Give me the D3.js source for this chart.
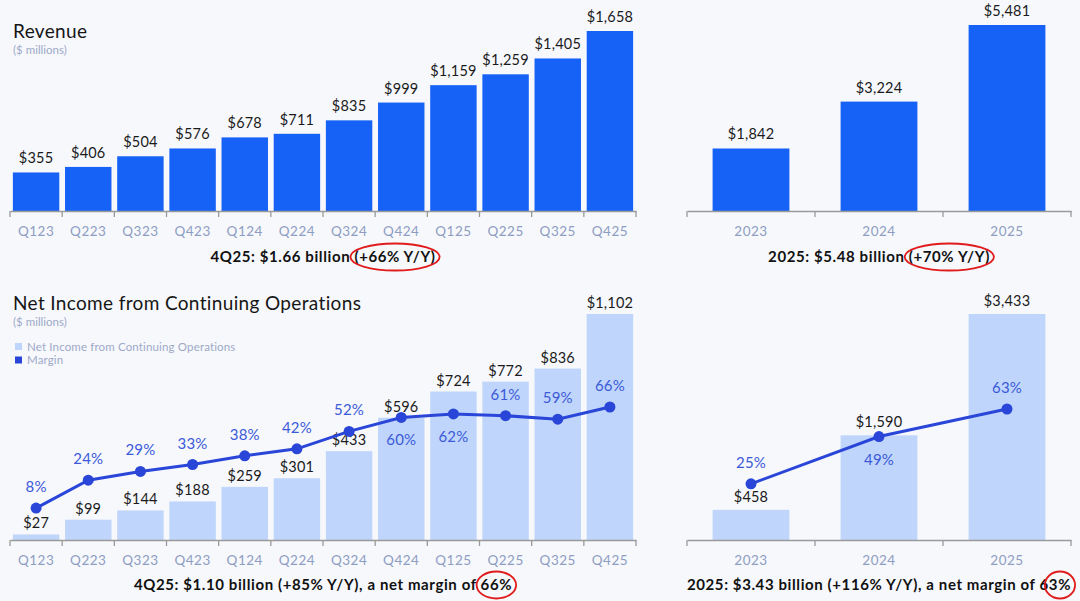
<!DOCTYPE html>
<html>
<head>
<meta charset="utf-8">
<script src="https://cdn.jsdelivr.net/npm/d3@7"></script>
<style>
  html, body { margin: 0; padding: 0; background: #f6f8fc; }
  svg { display: block; font-family: Lato, "Noto Sans", sans-serif; }
</style>
</head>
<body>
<svg id="chart" width="1080" height="601"></svg>
<script>
// data
var quarters = ["Q123", "Q223", "Q323", "Q423", "Q124", "Q224", "Q324", "Q424", "Q125", "Q225", "Q325", "Q425"];
var quarterlyRevenue = [355, 406, 504, 576, 678, 711, 835, 999, 1159, 1259, 1405, 1658];
var quarterlyNetIncome = [27, 99, 144, 188, 259, 301, 433, 596, 724, 772, 836, 1102];
var quarterlyMargin = [8, 24, 29, 33, 38, 42, 52, 60, 62, 61, 59, 66];

var years = ["2023", "2024", "2025"];
var annualRevenue = [1842, 3224, 5481];
var annualNetIncome = [458, 1590, 3433];
var annualMargin = [25, 49, 63];

// margin labels that sit under their point instead of above
var marginBelow = ["Q424", "Q125", "2024"];

var captions = {
  revQ: ["4Q25: $1.66 billion ", "(+66% Y/Y)", ""],
  revA: ["2025: $5.48 billion ", "(+70% Y/Y)", ""],
  niQ: ["4Q25: $1.10 billion (+85% Y/Y), a net margin of ", "66%", ""],
  niA: ["2025:  $3.43 billion (+116% Y/Y), a net margin of ", "63%", ""]
};

var svg = d3.select("#chart");
var money = d3.format(",");

var barBlue = "#1661f6";
var barLight = "#bfd5fb";
var lineBlue = "#2a46d8";
var pctBlue = "#3c5ad8";
var tickGrey = "#8e9dc2";

function bandScale(cats, r0, r1, p) {
  return d3.scaleBand().domain(cats).range([r0, r1])
    .paddingInner(p).paddingOuter(p / 2);
}

function drawAxis(x, yAxis) {
  var g = svg.append("g").attr("transform", "translate(0," + yAxis + ")");
  g.call(d3.axisBottom(x).tickSizeInner(0).tickSizeOuter(0).tickPadding(15));
  g.select(".domain").attr("stroke", "#9a9a9a").attr("stroke-width", 1.3);
  g.selectAll("text")
    .attr("fill", tickGrey)
    .attr("font-size", 13.5)
    .attr("letter-spacing", 0.5)
    .attr("font-family", "Lato, sans-serif");

  var r = x.range();
  var edges = d3.range(x.domain().length + 1).map(i => r[0] + i * x.step());
  g.selectAll("line.edge")
    .data(edges)
    .enter().append("line")
    .attr("class", "edge")
    .attr("x1", d => d).attr("x2", d => d)
    .attr("y1", 0).attr("y2", 6)
    .attr("stroke", "#9a9a9a")
    .attr("stroke-width", 1.3);
}

function drawBars(x, y, cats, values, colour, gap) {
  var data = cats.map((c, i) => ({c: c, v: values[i]}));
  var g = svg.append("g");
  g.selectAll("rect")
    .data(data)
    .enter().append("rect")
    .attr("x", d => x(d.c))
    .attr("width", x.bandwidth())
    .attr("y", d => y(d.v))
    .attr("height", d => y(0) - y(d.v))
    .attr("fill", colour);

  g.selectAll("text")
    .data(data)
    .enter().append("text")
    .attr("x", d => x(d.c) + x.bandwidth() / 2)
    .attr("y", d => y(d.v) - gap)
    .attr("text-anchor", "middle")
    .attr("font-size", 14.5)
    .attr("letter-spacing", 0.2)
    .attr("fill", "#1b1b1b")
    .text(d => "$" + money(d.v));
}

function drawMargin(x, y, cats, margins) {
  var data = cats.map((c, i) => ({c: c, m: margins[i]}));
  var cx = d => x(d.c) + x.bandwidth() / 2;
  var line = d3.line().x(cx).y(d => y(d.m));

  var g = svg.append("g");
  g.append("path")
    .datum(data)
    .attr("d", line)
    .attr("fill", "none")
    .attr("stroke", lineBlue)
    .attr("stroke-width", 3);

  g.selectAll("circle")
    .data(data)
    .enter().append("circle")
    .attr("cx", cx)
    .attr("cy", d => y(d.m))
    .attr("r", 5.5)
    .attr("fill", lineBlue);

  g.selectAll("text")
    .data(data)
    .enter().append("text")
    .attr("x", cx)
    .attr("y", d => marginBelow.indexOf(d.c) >= 0 ? y(d.m) + 28 : y(d.m) - 16)
    .attr("text-anchor", "middle")
    .attr("font-size", 15)
    .attr("letter-spacing", 0.2)
    .attr("fill", pctBlue)
    .text(d => d.m + "%");
}

function drawCaption(parts, cx, baseline) {
  var t = svg.append("text")
    .attr("x", cx)
    .attr("y", baseline)
    .attr("text-anchor", "middle")
    .attr("font-size", 15)
    .attr("letter-spacing", 0.6)
    .attr("font-weight", "bold")
    .attr("fill", "#111")
    .text(parts.join(""));

  // ring the highlighted part
  var node = t.node();
  var full = node.getComputedTextLength();
  var start = node.getSubStringLength(0, parts[0].length);
  var len = node.getSubStringLength(parts[0].length, parts[1].length);
  var left = cx - full / 2;
  svg.append("ellipse")
    .attr("cx", left + start + len / 2)
    .attr("cy", baseline - 5)
    .attr("rx", len / 2 + 4)
    .attr("ry", 13.5)
    .attr("fill", "none")
    .attr("stroke", "#e01b1b")
    .attr("stroke-width", 1.8);
}

function drawTitle(title, x0, baseline) {
  svg.append("text")
    .attr("x", x0).attr("y", baseline)
    .attr("font-size", 19)
    .attr("letter-spacing", 0.35)
    .attr("fill", "#161616")
    .text(title);
  svg.append("text")
    .attr("x", x0).attr("y", baseline + 16)
    .attr("font-size", 11.5)
    .attr("fill", "#9ea9c8")
    .text("($ millions)");
}

// ---- Revenue, quarterly
var xRevQ = bandScale(quarters, 10, 636, 0.11);
var yRevQ = d3.scaleLinear().domain([0, d3.max(quarterlyRevenue)]).range([211, 31]);
drawTitle("Revenue", 13, 38);
drawBars(xRevQ, yRevQ, quarters, quarterlyRevenue, barBlue, 9);
drawAxis(xRevQ, 211);
drawCaption(captions.revQ, 323, 262);

// ---- Revenue, annual
var xRevA = bandScale(years, 687, 1071, 0.4);
var yRevA = d3.scaleLinear().domain([0, d3.max(annualRevenue)]).range([211, 25]);
drawBars(xRevA, yRevA, years, annualRevenue, barBlue, 9);
drawAxis(xRevA, 211);
drawCaption(captions.revA, 879, 262);

// ---- Net income, quarterly
var xNiQ = bandScale(quarters, 10, 636, 0.11);
var yNiQ = d3.scaleLinear().domain([0, d3.max(quarterlyNetIncome)]).range([540, 314]);
var yMarQ = d3.scaleLinear().domain([0, 66]).range([522, 407]);
drawTitle("Net Income from Continuing Operations", 13, 310);
drawBars(xNiQ, yNiQ, quarters, quarterlyNetIncome, barLight, 6);
drawMargin(xNiQ, yMarQ, quarters, quarterlyMargin);
drawAxis(xNiQ, 540);
drawCaption(captions.niQ, 323, 590);

// legend
var legend = [
  {label: "Net Income from Continuing Operations", colour: barLight},
  {label: "Margin", colour: lineBlue}
];
var lg = svg.append("g").attr("transform", "translate(15,343)");
lg.selectAll("rect")
  .data(legend)
  .enter().append("rect")
  .attr("x", 0).attr("y", (d, i) => i * 13.5)
  .attr("width", 7).attr("height", 7)
  .attr("fill", d => d.colour);
lg.selectAll("text")
  .data(legend)
  .enter().append("text")
  .attr("x", 12).attr("y", (d, i) => i * 13.5 + 7.5)
  .attr("font-size", 11.5)
  .attr("letter-spacing", 0.15)
  .attr("fill", "#9ea9c8")
  .text(d => d.label);

// ---- Net income, annual
var xNiA = bandScale(years, 687, 1071, 0.4);
var yNiA = d3.scaleLinear().domain([0, d3.max(annualNetIncome)]).range([540, 314]);
var yMarA = d3.scaleLinear().domain([0, 63]).range([533, 409]);
drawBars(xNiA, yNiA, years, annualNetIncome, barLight, 8);
drawMargin(xNiA, yMarA, years, annualMargin);
drawAxis(xNiA, 540);
drawCaption(captions.niA, 879, 590);
</script>
</body>
</html>
